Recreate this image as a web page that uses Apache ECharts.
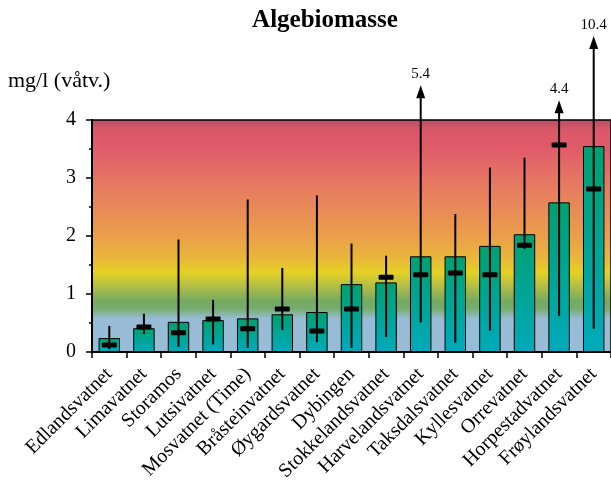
<!DOCTYPE html>
<html>
<head>
<meta charset="utf-8">
<style>
html,body{margin:0;padding:0;background:#fff;}
#chart{width:611px;height:491px;}
</style>
<script src="https://cdn.jsdelivr.net/npm/echarts@6/dist/echarts.min.js"></script>
</head>
<body>
<div id="chart"></div>
<script>
var titleText = 'Algebiomasse';
var unitText = 'mg/l (våtv.)';
var categories = ['Edlandsvatnet','Limavatnet','Storamos','Lutsivatnet','Mosvatnet (Time)','Bråsteinvatnet','Øygardsvatnet','Dybingen','Stokkelandsvatnet','Harvelandsvatnet','Taksdalsvatnet','Kyllesvatnet','Orrevatnet','Horpestadvatnet','Frøylandsvatnet'];
var meanVals   = [0.24,0.41,0.52,0.55,0.58,0.65,0.69,1.17,1.20,1.65,1.65,1.83,2.03,2.58,3.55];
var medianVals = [0.12,0.43,0.33,0.57,0.40,0.74,0.36,0.74,1.29,1.33,1.36,1.33,1.84,3.57,2.81];
var minVals    = [0.05,0.31,0.09,0.13,0.07,0.38,0.17,0.07,0.26,0.51,0.16,0.37,1.78,0.62,0.40];
var maxVals    = [0.45,0.66,1.94,0.90,2.63,1.45,2.70,1.87,1.66,5.4,2.38,3.18,3.35,4.4,10.4];
// where off-scale arrows end, in axis units (the axis stops at 4)
var arrowTipShown = [null,null,null,null,null,null,null,null,null,4.60,null,null,null,4.34,5.45];
var yTicks = [0,1,2,3,4];

var AXIS_MAX = yTicks[yTicks.length-1];
var serif = '"Liberation Serif","Times New Roman",serif';

var chart = echarts.init(document.getElementById('chart'), null, {renderer:'canvas'});

var rangeData = categories.map(function(c,i){
  return [i, minVals[i], maxVals[i], arrowTipShown[i] == null ? maxVals[i] : arrowTipShown[i]];
});
var medianData = categories.map(function(c,i){ return [i, medianVals[i]]; });

function rangeRender(params, api){
  var i = api.value(0);
  var lo = api.coord([i, api.value(1)]);
  var maxV = api.value(2);
  var off = maxV > AXIS_MAX;
  var hi = api.coord([i, off ? api.value(3) : maxV]);
  var children = [];
  var topY = off ? hi[1] + 12 : hi[1];
  children.push({type:'line', shape:{x1:lo[0], y1:lo[1], x2:hi[0], y2:topY},
    style:{stroke:'#000', lineWidth:2}});
  if (off) {
    children.push({type:'polygon', shape:{points:[[hi[0],hi[1]],[hi[0]-4.5,hi[1]+13],[hi[0]+4.5,hi[1]+13]]},
      style:{fill:'#000'}});
    children.push({type:'text', x:hi[0], y:hi[1]-11, style:{text:String(maxV), fill:'#000',
      font:'15px ' + serif, align:'center', verticalAlign:'middle'}});
  }
  return {type:'group', children:children};
}

function medianRender(params, api){
  var p = api.coord([api.value(0), api.value(1)]);
  return {type:'rect', shape:{x:p[0]-7.5, y:p[1]-2.5, width:15, height:5, r:1},
    style:{fill:'#000'}};
}

var bgGrad = new echarts.graphic.LinearGradient(0,0,0,1,[
  {offset:0.00, color:'#b84e66'},
  {offset:0.05, color:'#dc5869'},
  {offset:0.12, color:'#e05a6a'},
  {offset:0.25, color:'#e57464'},
  {offset:0.38, color:'#e88a58'},
  {offset:0.50, color:'#eb9e4a'},
  {offset:0.60, color:'#e9b83a'},
  {offset:0.655, color:'#e6d124'},
  {offset:0.71, color:'#b6bf44'},
  {offset:0.78, color:'#74aa62'},
  {offset:0.81, color:'#76ac6c'},
  {offset:0.855, color:'#98bcd6'},
  {offset:1.00, color:'#98bcd6'}
]);
var barGrad = new echarts.graphic.LinearGradient(0,0,0,1,[
  {offset:0, color:'#00a070'},
  {offset:1, color:'#00aabb'}
]);

chart.setOption({
  animation:false,
  backgroundColor:'#fff',
  graphic:[
    {type:'text', x:325, y:21, style:{text:titleText, fill:'#000',
      font:'bold 25px ' + serif, align:'center', verticalAlign:'middle'}},
    {type:'text', x:8, y:81, style:{text:unitText, fill:'#000',
      font:'22px ' + serif, align:'left', verticalAlign:'middle'}}
  ],
  grid:{left:92, right:0, top:120, bottom:139, show:true, backgroundColor:bgGrad,
    borderColor:'#000', borderWidth:1.5},
  xAxis:{
    type:'category', data:categories, boundaryGap:true,
    axisLine:{show:true, lineStyle:{color:'#000', width:2}},
    axisTick:{show:true, alignWithLabel:false, length:6, lineStyle:{color:'#000', width:1.5}},
    axisLabel:{interval:0, rotate:45, margin:19, color:'#000', fontSize:20, fontFamily:serif},
    splitLine:{show:false}
  },
  yAxis:{
    type:'value', min:yTicks[0], max:AXIS_MAX, interval:1,
    axisLine:{show:true, lineStyle:{color:'#000', width:2}},
    axisTick:{show:true, length:6, lineStyle:{color:'#000', width:1.5}},
    minorTick:{show:true, splitNumber:2, length:3, lineStyle:{color:'#000', width:1.5}},
    axisLabel:{margin:16, color:'#000', fontSize:20, fontFamily:serif},
    splitLine:{show:false}
  },
  series:[
    {type:'bar', data:meanVals, barWidth:'62%',
      itemStyle:{color:barGrad, borderColor:'#000', borderWidth:1}, z:2},
    {type:'custom', data:rangeData, renderItem:rangeRender, clip:false, z:5,
      encode:{x:0, y:[1,2]}},
    {type:'custom', data:medianData, renderItem:medianRender, clip:false, z:6,
      encode:{x:0, y:1}}
  ]
});
</script>
</body>
</html>
